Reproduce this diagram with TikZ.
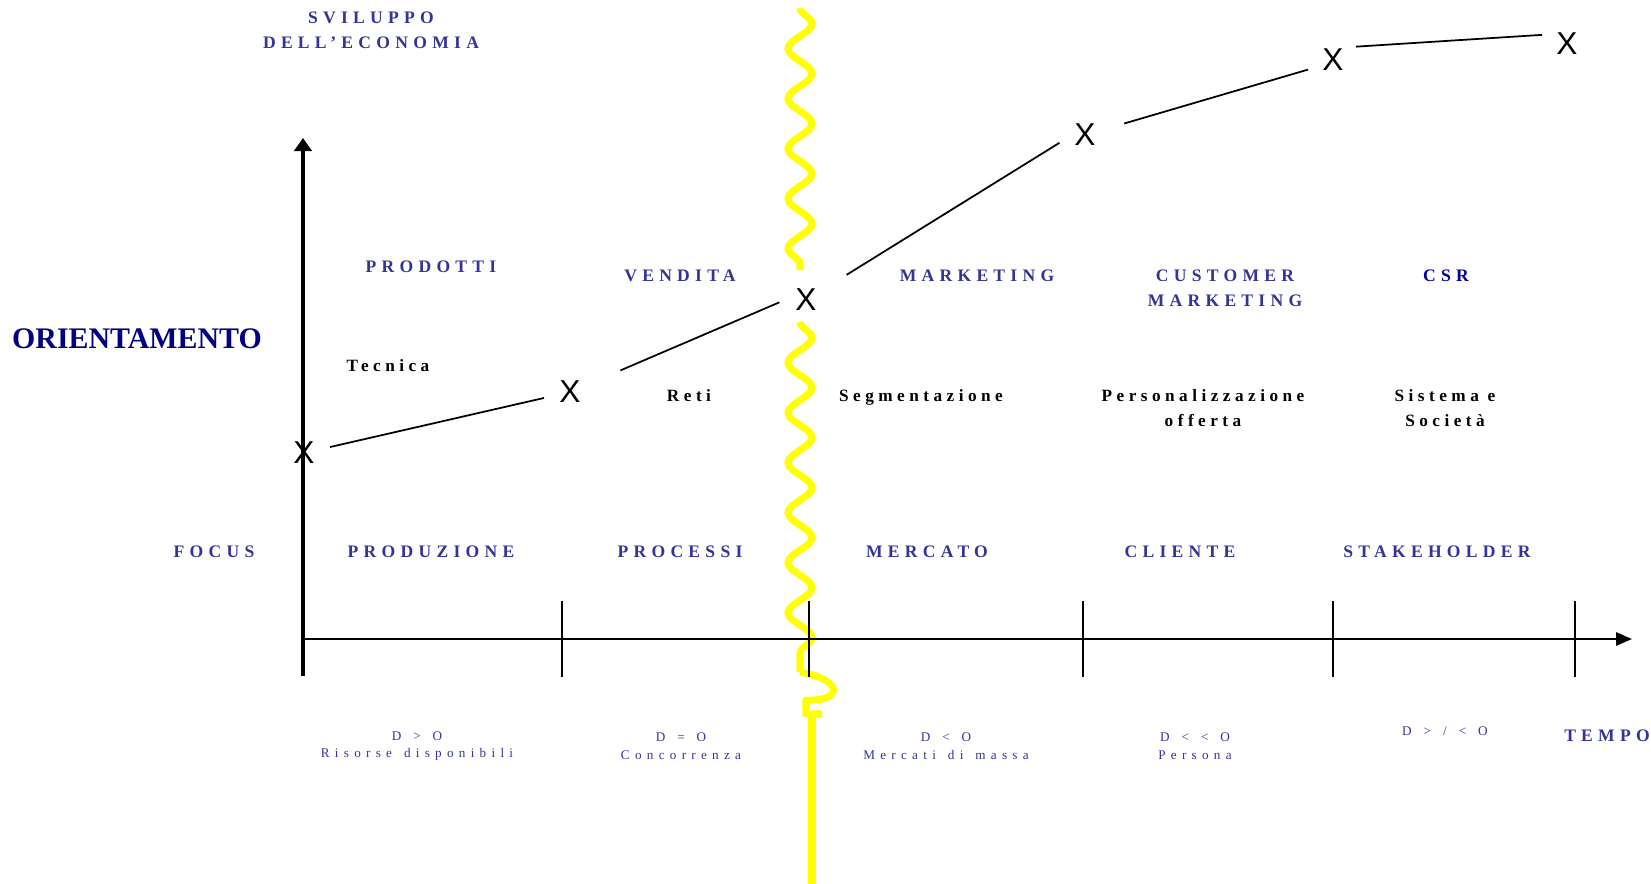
\documentclass[tikz,border=0pt]{standalone}
\usepackage{fontspec}
\setmainfont{Liberation Serif}
\newfontfamily\spacedfont[LetterSpace=30]{Liberation Serif}
\newfontfamily\traitfont[LetterSpace=26]{Liberation Serif}
\newfontfamily\widefont[LetterSpace=40, WordSpace=1.4]{Liberation Serif}
\newfontfamily\markfont{Liberation Sans}
\usepackage{tikz}
\usetikzlibrary{arrows.meta,positioning,decorations.pathmorphing}
\definecolor{evBlue}{HTML}{333399}
\definecolor{evNavy}{HTML}{000080}
\definecolor{evDeep}{HTML}{00009C}
\definecolor{evYellow}{HTML}{FFFF00}
\tikzset{
  phase/.style={font=\spacedfont\bfseries\fontsize{10}{14}\selectfont, text=evBlue, align=center, inner sep=0pt},
  trait/.style={font=\traitfont\bfseries\fontsize{9.8}{14}\selectfont, text=black, align=center, inner sep=0pt},
  market/.style={font=\widefont\fontsize{7.5}{10}\selectfont, text=evBlue, align=center, inner sep=0pt},
  xmark/.style={circle, inner sep=0pt, minimum size=30pt, font=\markfont\fontsize{18}{18}\selectfont},
  curve/.style={line width=1pt},
  yellowline/.style={evYellow, line width=4pt},
  wave/.style={yellowline, decorate, decoration={snake, segment length=10mm, amplitude=2.4mm}}
}
\begin{document}
\begin{tikzpicture}[x=0.2mm,y=-0.2mm]
    \useasboundingbox (0,0) rectangle (1651,884);

    % Yellow break line
    \coordinate (wavetop) at (800,8);
    \coordinate (waveend) at (800,270);
    \coordinate (wavestart) at (800,322);
    \coordinate (hook) at (800,672);
    \draw[wave] (wavetop) -- (waveend);
    \draw[wave] (wavestart) -- (hook);
    \draw[yellowline, line join=round] (hook) .. controls (845,680) and (842,702) .. (806,700) -- (806,714) -- (822,714);
    \draw[yellowline] (812,714) -- (812,884);

    % Axes
    \coordinate (origin) at (303,676);
    \coordinate (ytop) at (303,138);
    \coordinate (xstart) at (305,639);
    \coordinate (xend) at (1632,639);
    \draw[line width=2pt, -{Triangle[length=7.5pt,width=10pt]}] (origin) -- (ytop);
    \draw[line width=1.1pt, -{Triangle[length=9pt,width=7.5pt]}] (xstart) -- (xend);
    \foreach \tx in {562,809,1083,1333,1575}
        \draw[line width=0.9pt] (\tx,601) -- (\tx,677);

    % Axis titles
    \node[font=\bfseries\fontsize{17}{17}\selectfont, text=evNavy, inner sep=0pt] at (137,339) (orient) {ORIENTAMENTO};
    \node[phase] at (371,30) (svil) {SVILUPPO\\DELL’ECONOMIA};
    \node[phase] at (1607,736) (tempo) {TEMPO};

    % Orientamento
    \node[phase] at (431,267) (prodotti) {PRODOTTI};
    \node[phase] at (680,276) (vendita) {VENDITA};
    \node[phase] at (977,276) (marketing) {MARKETING};
    \node[phase] at (1225,288) (customer) {CUSTOMER\\MARKETING};
    \node[phase, text=evDeep] at (1446,276) (csr) {CSR};

    % Leve
    \node[trait] at (388,366) (tecnica) {Tecnica};
    \node[trait] at (689,396) (reti) {Reti};
    \node[trait] at (921,397) (segm) {Segmentazione};
    \node[trait] at (1203,408) (pers) {Personalizzazione\\offerta};
    \node[trait] at (1445,408) (sist) {Sistema e\\Società};

    % Focus
    \node[phase] at (214,552) (focus) {FOCUS};
    \node[phase] at (431,552) (produz) {PRODUZIONE};
    \node[phase] at (680,552) (processi) {PROCESSI};
    \node[phase] at (927,552) (mercato) {MERCATO};
    \node[phase] at (1180,552) (cliente) {CLIENTE};
    \node[phase] at (1437,552) (stake) {STAKEHOLDER};

    % Domanda / offerta
    \node[market] at (417,746) (dom1) {D > O\\Risorse disponibili};
    \node[market] at (681,746) (dom2) {D = O\\Concorrenza};
    \node[market] at (946,746) (dom3) {D < O\\Mercati di massa};
    \node[market] at (1195,746) (dom4) {D < < O\\Persona};
    \node[market] at (1445,731) (dom5) {D > / < O};

    % Curve
    \node[xmark] at (304,453) (x1) {X};
    \node[xmark] at (570,392) (x2) {X};
    \node[xmark] at (806,300) (x3) {X};
    \node[xmark] at (1085,135) (x4) {X};
    \node[xmark] at (1333,60) (x5) {X};
    \node[xmark] at (1567,44) (x6) {X};
    \draw[curve] (x1) -- (x2);
    \draw[curve, shorten <=16pt] (x2) -- (x3.185);
    \draw[curve, shorten <=12pt] (x3) -- (x4.197);
    \draw[curve, shorten <=8pt] (x4) -- (x5.201);
    \draw[curve] (x5.30) -- (x6.160);
\end{tikzpicture}
\end{document}
